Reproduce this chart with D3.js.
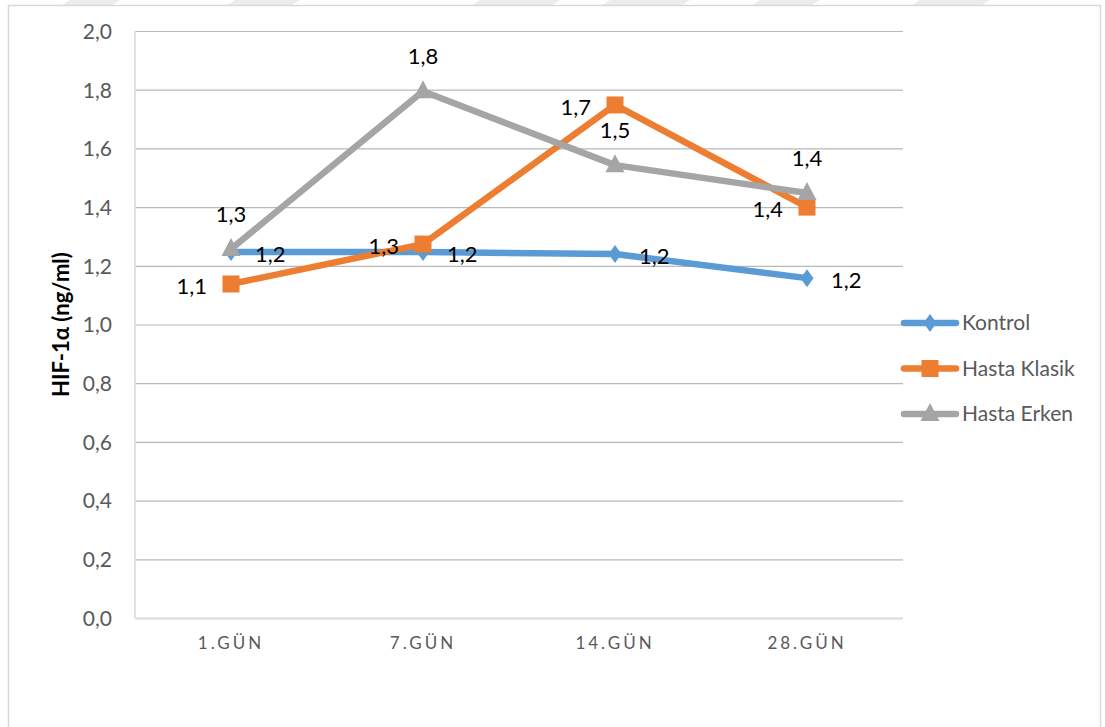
<!DOCTYPE html>
<html>
<head>
<meta charset="utf-8">
<script src="https://cdn.jsdelivr.net/npm/d3@7/dist/d3.min.js"></script>
<style>
  html, body { margin: 0; padding: 0; background: #fff; }
  svg { display: block; }
  text { font-family: Lato, "Open Sans", "DejaVu Sans", sans-serif; }
</style>
</head>
<body>
<svg id="chart" width="1105" height="727"></svg>
<script>
// Days of measurement
const categories = ["1.GÜN", "7.GÜN", "14.GÜN", "28.GÜN"];

// HIF-1α (ng/ml) per group
const kontrol     = [1.247, 1.247, 1.240, 1.158];
const hastaKlasik = [1.138, 1.274, 1.748, 1.400];
const hastaErken  = [1.257, 1.795, 1.543, 1.448];

const yTicks = [0, 0.2, 0.4, 0.6, 0.8, 1.0, 1.2, 1.4, 1.6, 1.8, 2.0];

const series = [
  { name: "Kontrol",      values: kontrol,     color: "#5B9BD5", symbol: "diamond",  labelPos: "right" },
  { name: "Hasta Klasik", values: hastaKlasik, color: "#ED7D31", symbol: "square",   labelPos: "left"  },
  { name: "Hasta Erken",  values: hastaErken,  color: "#A5A5A5", symbol: "triangle", labelPos: "above" }
];

const svg = d3.select("#chart");
const plot = { left: 135, right: 903, top: 31, bottom: 618 };

// faint stripes along the top edge of the page
const stripes = [[70, 120], [235, 300], [480, 560], [610, 690], [760, 820], [920, 990]];
svg.append("g").selectAll("path").data(stripes).join("path")
  .attr("d", d => `M${d[0]},0 L${d[1]},0 L${d[1] - 8},5 L${d[0] - 8},5 Z`)
  .attr("fill", "#ececec");

// chart frame
svg.append("rect")
  .attr("x", 8.5).attr("y", 5.5)
  .attr("width", 1092).attr("height", 740)
  .attr("fill", "#fff").attr("stroke", "#d9d9d9").attr("stroke-width", 1.5);

const x = d3.scaleBand().domain(categories).range([plot.left, plot.right]);
const y = d3.scaleLinear().domain([0, 2]).range([plot.bottom, plot.top]);
const cx = c => x(c) + x.bandwidth() / 2;

const fmt = v => v.toFixed(1).replace(".", ",");

// horizontal gridlines + y tick labels
const yAxis = d3.axisLeft(y).tickValues(yTicks).tickFormat(fmt)
  .tickSize(-(plot.right - plot.left)).tickPadding(23);
const gy = svg.append("g").attr("transform", `translate(${plot.left},0)`).call(yAxis);
gy.select(".domain").remove();
gy.selectAll(".tick line")
  .attr("stroke", d => d === 0 ? "#d9d9d9" : "#b8b8b8")
  .attr("stroke-width", d => d === 0 ? 2 : 1.2);
gy.selectAll(".tick text")
  .attr("fill", "#595959").attr("font-size", 21).attr("dy", "0.35em");

// left edge of the plot area
svg.append("line")
  .attr("x1", plot.left).attr("x2", plot.left)
  .attr("y1", plot.top).attr("y2", plot.bottom)
  .attr("stroke", "#d9d9d9").attr("stroke-width", 1.5);

// category labels
const xAxis = d3.axisBottom(x).tickSize(0).tickPadding(19);
const gx = svg.append("g").attr("transform", `translate(0,${plot.bottom})`).call(xAxis);
gx.select(".domain").remove();
gx.selectAll(".tick text")
  .attr("fill", "#595959").attr("font-size", 17)
  .attr("letter-spacing", "3px");

// y axis title
svg.append("text")
  .attr("transform", `translate(69,${(plot.top + plot.bottom) / 2}) rotate(-90)`)
  .attr("text-anchor", "middle")
  .attr("font-size", 22).attr("font-weight", "bold").attr("fill", "#000")
  .text("HIF-1α (ng/ml)");

function symbolPath(kind) {
  if (kind === "diamond") return "M0,-9 L6.5,0 L0,9 L-6.5,0 Z";
  if (kind === "square") return "M-8.5,-8.5 H8.5 V8.5 H-8.5 Z";
  return "M0,-11 L9.5,7 L-9.5,7 Z";
}

const line = d3.line().x((d, i) => cx(categories[i])).y(d => y(d));

// lines and markers
series.forEach(s => {
  const g = svg.append("g");
  g.append("path")
    .attr("d", line(s.values))
    .attr("fill", "none").attr("stroke", s.color)
    .attr("stroke-width", 6.5).attr("stroke-linejoin", "round").attr("stroke-linecap", "round");
  g.selectAll("path.m").data(s.values).join("path").attr("class", "m")
    .attr("d", symbolPath(s.symbol))
    .attr("transform", (d, i) => `translate(${cx(categories[i])},${y(d)})`)
    .attr("fill", s.color);
});

// data labels
series.forEach(s => {
  svg.append("g").selectAll("text").data(s.values).join("text")
    .attr("x", (d, i) => {
      const px = cx(categories[i]);
      if (s.labelPos === "right") return px + 24;
      if (s.labelPos === "left") return px - 24;
      return px;
    })
    .attr("y", d => {
      const py = y(d);
      if (s.labelPos === "above") return py - 27;
      return py + 10;
    })
    .attr("text-anchor", s.labelPos === "right" ? "start" : s.labelPos === "left" ? "end" : "middle")
    .attr("font-size", 22).attr("fill", "#000")
    .text(d => fmt(d));
});

// legend
const legend = svg.append("g");
series.forEach((s, i) => {
  const ly = 323 + i * 45.5;
  const g = legend.append("g").attr("transform", `translate(0,${ly})`);
  g.append("line")
    .attr("x1", 904).attr("x2", 956)
    .attr("stroke", s.color).attr("stroke-width", 6.5).attr("stroke-linecap", "round");
  g.append("path").attr("d", symbolPath(s.symbol))
    .attr("transform", "translate(930,0)").attr("fill", s.color);
  g.append("text")
    .attr("x", 962).attr("y", 0).attr("dy", "0.35em")
    .attr("font-size", 21).attr("fill", "#595959")
    .text(s.name);
});
</script>
</body>
</html>
